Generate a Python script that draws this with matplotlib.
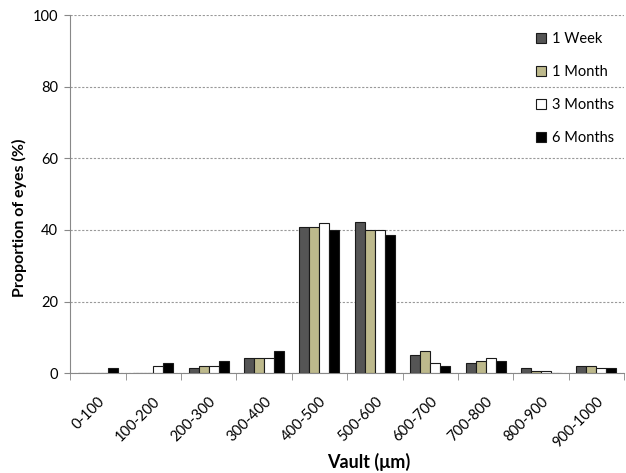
import matplotlib.pyplot as plt
import numpy as np

plt.rcParams['font.family'] = ['Lato', 'DejaVu Sans']

categories = ['0-100', '100-200', '200-300', '300-400', '400-500',
              '500-600', '600-700', '700-800', '800-900', '900-1000']
week1 = [0, 0, 1.4, 4.2, 40.8, 42.1, 5.1, 2.8, 1.4, 2.1]
month1 = [0, 0, 2.1, 4.2, 40.8, 40.0, 6.3, 3.5, 0.7, 2.1]
month3 = [0, 2.1, 2.1, 4.2, 42.0, 40.0, 2.9, 4.3, 0.7, 1.4]
month6 = [1.4, 2.8, 3.5, 6.3, 40.0, 38.7, 2.1, 3.5, 0, 1.4]

series = [('1 Week', week1, '#555555'),
          ('1 Month', month1, '#bdb98c'),
          ('3 Months', month3, '#ffffff'),
          ('6 Months', month6, '#000000')]

fig = plt.figure(figsize=(6.26, 4.73), dpi=100)
ax = fig.add_axes([0.112, 0.211, 0.885, 0.757])

x = np.arange(len(categories))
w = 0.18
for i, (name, vals, col) in enumerate(series):
    ax.bar(x + (i - 1.5) * w, vals, w, color=col, edgecolor='#1a1a1a',
           linewidth=0.8, label=name, zorder=3)

ax.set_xlim(-0.5, len(categories) - 0.5)
ax.set_ylim(0, 100)
ax.set_yticks(range(0, 101, 20))
ax.yaxis.grid(True, linestyle=(0, (2, 1.5)), color='#999999', linewidth=0.8, zorder=0)

ax.set_xticks(x)
ax.set_xticklabels(categories, rotation=45, ha='right', rotation_mode='anchor', fontsize=10.5)
ax.set_xticks(np.arange(-0.5, len(categories), 1), minor=True)
ax.tick_params(axis='x', which='major', length=0, pad=15)
ax.tick_params(axis='x', which='minor', length=5, color='#888888')
ax.tick_params(axis='y', length=4.5, color='#888888', labelsize=10.5, pad=4)

for s in ['top', 'right']:
    ax.spines[s].set_visible(False)
ax.spines['left'].set_color('#888888')
ax.spines['bottom'].set_color('#888888')

ax.set_ylabel('Proportion of eyes (%)', fontsize=11.5, fontweight='bold')
ax.yaxis.set_label_coords(-0.078, 0.433)
ax.set_xlabel('Vault (\u03bcm)', fontsize=13, fontweight='bold')
ax.xaxis.set_label_coords(0.539, -0.222)

ax.legend(loc='upper right', bbox_to_anchor=(1.005, 0.99), frameon=False,
          fontsize=10.5, labelspacing=1.3, handlelength=0.7, handleheight=0.7,
          handletextpad=0.4)

fig.savefig('out.png', dpi=100)
